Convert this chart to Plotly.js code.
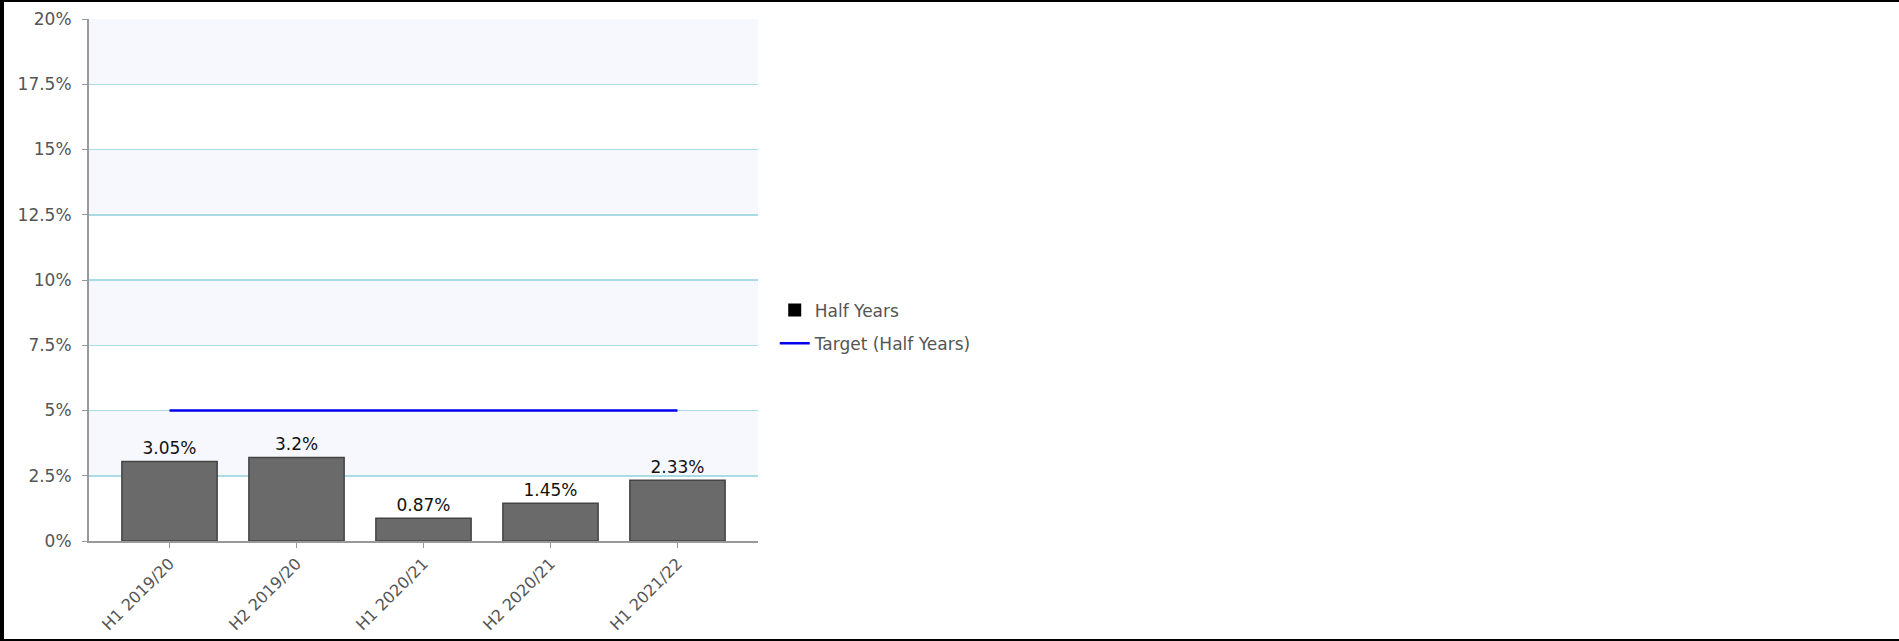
<!DOCTYPE html>
<html>
<head>
<meta charset="utf-8">
<script src="https://cdn.plot.ly/plotly-3.0.1.min.js"></script>
<style>
  html, body { margin: 0; padding: 0; background: #ffffff; }
  #frame { width: 1899px; height: 641px; box-sizing: border-box; border-left: 4px solid #000; border-top: 2px solid #000; border-bottom: 2px solid #000; overflow: hidden; }
  #chart { width: 1895px; height: 637px; }
</style>
</head>
<body>
<div id="frame"><div id="chart"></div></div>
<script>
const categories = ["H1 2019/20", "H2 2019/20", "H1 2020/21", "H2 2020/21", "H1 2021/22"];
const halfYears = [3.05, 3.2, 0.87, 1.45, 2.33];
const halfYearLabels = ["3.05%", "3.2%", "0.87%", "1.45%", "2.33%"];
const target = [5, 5, 5, 5, 5];
const yTicks = [0, 2.5, 5, 7.5, 10, 12.5, 15, 17.5, 20];
const yTickText = ["0%", "2.5%", "5%", "7.5%", "10%", "12.5%", "15%", "17.5%", "20%"];
const shadedBands = [[2.5, 5], [7.5, 10], [12.5, 15], [17.5, 20]];

const FONT = "DejaVu Sans, Verdana, sans-serif";

const traces = [
  {
    type: "bar",
    x: categories,
    y: halfYears,
    text: halfYearLabels,
    textposition: "outside",
    cliponaxis: false,
    textfont: { family: FONT, size: 17, color: "#111111" },
    marker: { color: "#6a6a6a", line: { color: "#444444", width: 1.5 } },
    showlegend: false,
    hoverinfo: "skip"
  },
  {
    type: "scatter",
    mode: "markers",
    name: "Half Years",
    x: [null],
    y: [null],
    marker: { color: "#000000", symbol: "square", size: 13 },
    showlegend: true,
    legendgroup: "a",
    hoverinfo: "skip"
  },
  {
    type: "scatter",
    mode: "lines",
    name: "Target (Half Years)",
    x: categories,
    y: target,
    line: { color: "#0000ee", width: 2.5 },
    legendgroup: "b",
    hoverinfo: "skip"
  }
];

const shapes = shadedBands.map(b => ({
  type: "rect", xref: "paper", yref: "y", x0: 0, x1: 1, y0: b[0], y1: b[1],
  fillcolor: "#f7f8fe", line: { width: 0 }, layer: "below"
}));

const layout = {
  width: 1895,
  height: 637,
  margin: { l: 85, r: 1141, t: 17, b: 98 },
  paper_bgcolor: "#ffffff",
  plot_bgcolor: "#ffffff",
  bargap: 0.25,
  font: { family: FONT, size: 17, color: "#555555" },
  shapes: shapes,
  xaxis: {
    type: "category",
    range: [-0.634, 4.634],
    tickangle: -45,
    ticks: "outside",
    ticklen: 5,
    tickcolor: "#999999",
    showline: true,
    linecolor: "#999999",
    linewidth: 2,
    showgrid: false,
    tickfont: { family: FONT, size: 16, color: "#555555" },
    fixedrange: true
  },
  yaxis: {
    range: [0, 20],
    tickmode: "array",
    tickvals: yTicks,
    ticktext: yTickText,
    ticks: "outside",
    ticklen: 5,
    tickcolor: "#999999",
    ticklabelstandoff: 7,
    showline: true,
    linecolor: "#999999",
    linewidth: 2,
    showgrid: true,
    gridcolor: "#aadce6",
    gridwidth: 1.5,
    zeroline: false,
    tickfont: { family: FONT, size: 17, color: "#555555" },
    fixedrange: true
  },
  legend: {
    x: 1.025,
    xanchor: "left",
    y: 0.41,
    yanchor: "middle",
    traceorder: "grouped",
    tracegroupgap: 8,
    font: { family: FONT, size: 17, color: "#555555" },
    bgcolor: "rgba(0,0,0,0)"
  },
  hovermode: false
};

Plotly.newPlot("chart", traces, layout, { displayModeBar: false, staticPlot: true });
</script>
</body>
</html>
